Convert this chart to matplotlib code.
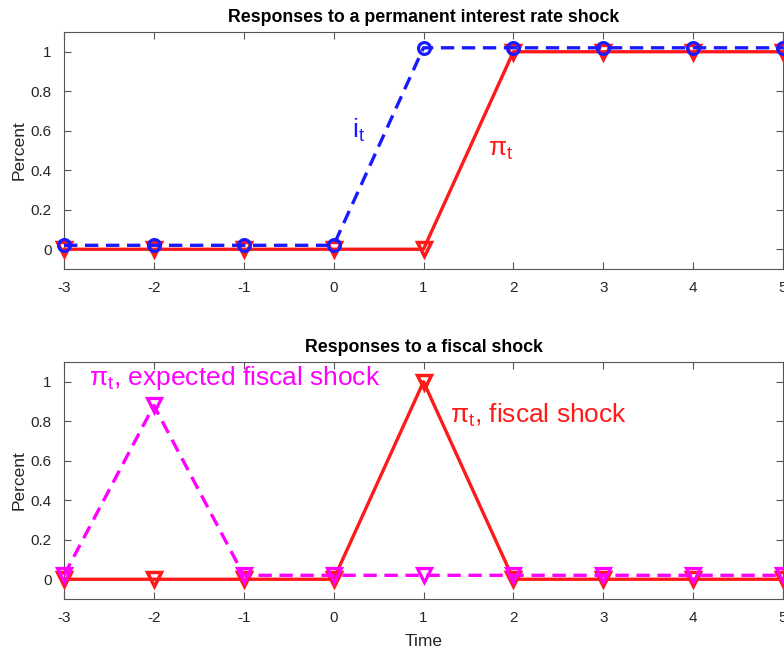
import matplotlib
matplotlib.use("Agg")
import matplotlib.pyplot as plt

plt.rcParams['font.family'] = ['Liberation Sans', 'DejaVu Sans']
plt.rcParams['mathtext.fontset'] = 'custom'
plt.rcParams['mathtext.rm'] = 'Liberation Sans'
plt.rcParams['mathtext.it'] = 'Liberation Sans'

t = [-3, -2, -1, 0, 1, 2, 3, 4, 5]
i_perm = [0.02, 0.02, 0.02, 0.02, 1.02, 1.02, 1.02, 1.02, 1.02]
pi_perm = [0, 0, 0, 0, 0, 1, 1, 1, 1]
pi_expected = [0.02, 0.88, 0.02, 0.02, 0.02, 0.02, 0.02, 0.02, 0.02]
pi_fiscal = [0, 0, 0, 0, 1, 0, 0, 0, 0]
xticks = [-3, -2, -1, 0, 1, 2, 3, 4, 5]
yticks = [0, 0.2, 0.4, 0.6, 0.8, 1]
yticklabels = ['0', '0.2', '0.4', '0.6', '0.8', '1']

W, H = 784, 651
fig = plt.figure(figsize=(W/100, H/100), dpi=100)
L, R = 64/W, 783/W
ax1 = fig.add_axes([L, 1-269/H, R-L, (269-32)/H])
ax2 = fig.add_axes([L, 1-599/H, R-L, (599-362)/H])

gray = '#262626'
def style(ax):
    ax.set_xlim(-3, 5)
    ax.set_ylim(-0.1, 1.1)
    ax.set_xticks(xticks)
    ax.set_xticklabels([str(v) for v in xticks])
    ax.set_yticks(yticks)
    ax.set_yticklabels(yticklabels)
    ax.tick_params(direction='in', top=True, right=True, length=5, width=0.8,
                   colors='#555555', labelcolor=gray, labelsize=11, pad=9)
    for s in ax.spines.values():
        s.set_color('#555555')
        s.set_linewidth(0.8)
    ax.set_ylabel('Percent', fontsize=12.5, color=gray, labelpad=3)

red = '#ff1a1a'
blue = '#1a1aff'
mag = '#ff00ff'

ax1.plot(t, pi_perm, '-', color=red, lw=2.4, marker='v', ms=10, mfc='none', mec=red, mew=2.5, clip_on=False, zorder=3)
ax1.plot(t, i_perm, '--', color=blue, lw=2.4, dashes=(4, 2.3), marker='o', ms=8.5, mfc='none', mec=blue, mew=2.3, clip_on=False, zorder=4)
ax1.text(0.2, 0.6, r'i$_{\mathrm{t}}$', color=blue, fontsize=19, va='center')
ax1.text(1.72, 0.5, r'$\pi_{\mathrm{t}}$', color=red, fontsize=19, va='center')
ax1.set_title('Responses to a permanent interest rate shock', fontsize=12.8, fontweight='bold', pad=7)
style(ax1)

ax2.plot(t, pi_fiscal, '-', color=red, lw=2.4, marker='v', ms=10, mfc='none', mec=red, mew=2.5, clip_on=False, zorder=3)
ax2.plot(t, pi_expected, '--', color=mag, lw=2.4, dashes=(4, 2.3), marker='v', ms=10, mfc='none', mec=mag, mew=2.3, clip_on=False, zorder=4)
ax2.text(-2.72, 1.02, r'$\pi_{\mathrm{t}}$, expected fiscal shock', color=mag, fontsize=19, va='center')
ax2.text(1.3, 0.83, r'$\pi_{\mathrm{t}}$, fiscal shock', color=red, fontsize=19, va='center')
ax2.set_title('Responses to a fiscal shock', fontsize=12.8, fontweight='bold', pad=7)
style(ax2)
ax2.set_xlabel('Time', fontsize=12.5, color=gray, labelpad=6)

fig.savefig('out.png', dpi=100)
